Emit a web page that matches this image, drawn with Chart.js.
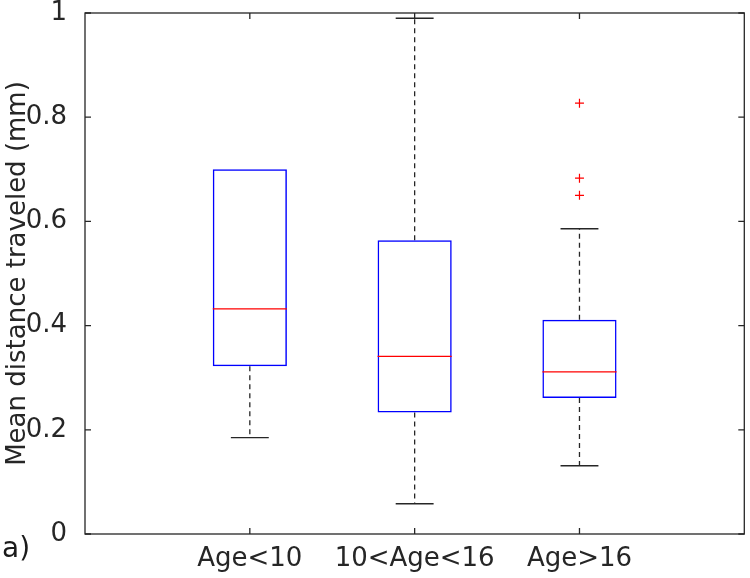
<!DOCTYPE html>
<html>
<head>
<meta charset="utf-8">
<script src="https://cdn.jsdelivr.net/npm/chart.js@4.4.0/dist/chart.umd.min.js"></script>
<style>
  html, body { margin: 0; padding: 0; background: #fff; }
  #wrap { position: relative; width: 750px; height: 578px; }
  #panel { position: absolute; left: 2px; top: 531px; font: 28px 'DejaVu Sans', sans-serif; color: #1a1a1a; }
</style>
</head>
<body>
<div id="wrap">
  <canvas id="chart" width="750" height="578"></canvas>
  <div id="panel">a)</div>
</div>
<script>
const categories = ['Age<10', '10<Age<16', 'Age>16'];
const lowerWhisker = [0.185, 0.058, 0.131];
const q1 = [0.322, 0.233, 0.261];
const median = [0.432, 0.341, 0.311];
const q3 = [0.700, 0.564, 0.411];
const upperWhisker = [0.700, 0.990, 0.586];
const outliers = [[], [], [0.827, 0.683, 0.650]];
const yTicks = [0, 0.2, 0.4, 0.6, 0.8, 1];

const BOX_W = 0.45;
const CAP_W = 0.23;
const INK = '#262626';
const FONT = "'DejaVu Sans', sans-serif";

// boxes drawn as floating bars from q1 to q3
const boxData = categories.map((c, i) => ({ x: i + 1, y: [q1[i], q3[i]] }));

// short horizontal segments centred on each group, split with nulls
function segments(values, width) {
  const pts = [];
  values.forEach((v, i) => {
    pts.push({ x: i + 1 - width / 2, y: v }, { x: i + 1 + width / 2, y: v }, { x: i + 1, y: null });
  });
  return pts;
}

const whiskerData = [];
categories.forEach((c, i) => {
  whiskerData.push(
    { x: i + 1, y: q3[i] }, { x: i + 1, y: upperWhisker[i] }, { x: i + 1, y: null },
    { x: i + 1, y: q1[i] }, { x: i + 1, y: lowerWhisker[i] }, { x: i + 1, y: null }
  );
});

// a cap sitting on the box edge is hidden by the box anyway
const upperCaps = upperWhisker.map((v, i) => (v > q3[i] ? v : null));

const outlierData = outliers.flatMap((list, i) => list.map(v => ({ x: i + 1, y: v })));

// matlab style box round the axes, ticks pointing inwards
const frame = {
  id: 'frame',
  afterDraw(chart) {
    const { ctx, chartArea: a, scales: { x, y } } = chart;
    const len = 6;
    ctx.save();
    ctx.strokeStyle = INK;
    ctx.lineWidth = 1.3;
    ctx.strokeRect(a.left, a.top, a.right - a.left, a.bottom - a.top);
    ctx.beginPath();
    categories.forEach((c, i) => {
      const px = x.getPixelForValue(i + 1);
      ctx.moveTo(px, a.bottom); ctx.lineTo(px, a.bottom - len);
      ctx.moveTo(px, a.top); ctx.lineTo(px, a.top + len);
    });
    yTicks.forEach(v => {
      const py = y.getPixelForValue(v);
      ctx.moveTo(a.left, py); ctx.lineTo(a.left + len, py);
      ctx.moveTo(a.right, py); ctx.lineTo(a.right - len, py);
    });
    ctx.stroke();
    ctx.restore();
  }
};

new Chart(document.getElementById('chart'), {
  type: 'bar',
  data: {
    datasets: [
      {
        type: 'line', label: 'Median', data: segments(median, BOX_W),
        borderColor: '#ff0000', borderWidth: 1.3, pointRadius: 0, spanGaps: false, order: 0
      },
      {
        type: 'bar', label: 'Box', data: boxData,
        borderColor: '#0000ff', borderWidth: 1.5, borderSkipped: false,
        backgroundColor: 'rgba(0,0,0,0)', barPercentage: BOX_W, categoryPercentage: 1, order: 1
      },
      {
        type: 'line', label: 'Whisker', data: whiskerData,
        borderColor: INK, borderWidth: 1.3, borderDash: [5, 4], pointRadius: 0, spanGaps: false, order: 2
      },
      {
        type: 'line', label: 'Cap', data: [...segments(lowerWhisker, CAP_W), ...segments(upperCaps, CAP_W)],
        borderColor: INK, borderWidth: 1.4, pointRadius: 0, spanGaps: false, order: 2
      },
      {
        type: 'line', label: 'Outlier', data: outlierData, showLine: false,
        pointStyle: 'cross', pointRadius: 4.5, borderColor: '#ff0000', borderWidth: 1.2, order: 0
      }
    ]
  },
  options: {
    responsive: false,
    animation: false,
    layout: { padding: { top: 13, right: 4, left: 0, bottom: 0 } },
    plugins: { legend: { display: false }, tooltip: { enabled: false } },
    scales: {
      x: {
        type: 'linear', min: 0, max: 4, offset: false,
        grid: { display: false }, border: { display: false },
        afterBuildTicks: s => { s.ticks = categories.map((c, i) => ({ value: i + 1 })); },
        afterFit: s => { s.height = 44; s.paddingLeft = 0; s.paddingRight = 0; },
        ticks: {
          autoSkip: false, maxRotation: 0, minRotation: 0, padding: 2, color: INK,
          font: { family: FONT, size: 26, lineHeight: 1.2 },
          callback: v => categories[v - 1] || ''
        }
      },
      y: {
        min: 0, max: 1,
        grid: { display: false }, border: { display: false },
        afterBuildTicks: s => { s.ticks = yTicks.map(v => ({ value: v })); },
        afterFit: s => { s.width = 85; s.paddingTop = 0; s.paddingBottom = 0; },
        ticks: {
          padding: 10, color: INK,
          font: { family: FONT, size: 26, lineHeight: 1 },
          callback: v => String(v)
        },
        title: {
          display: true, text: 'Mean distance traveled (mm)', color: INK,
          font: { family: FONT, size: 26, lineHeight: 1.2 },
          padding: { top: 3, bottom: 0 }
        }
      }
    }
  },
  plugins: [frame]
});
</script>
</body>
</html>
